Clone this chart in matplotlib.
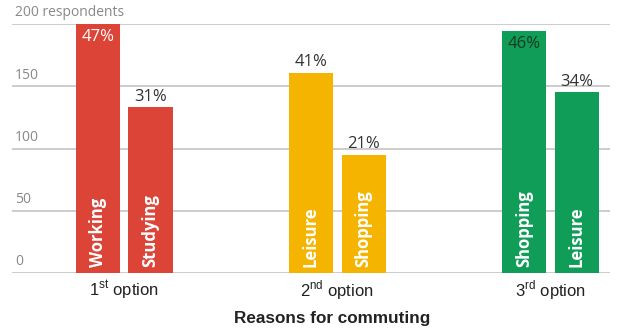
import matplotlib
matplotlib.use('Agg')
from matplotlib import pyplot as plt

# data
groups = ['1$^{\\mathrm{st}}$ option', '2$^{\\mathrm{nd}}$ option', '3$^{\\mathrm{rd}}$ option']
reasons = ['Working', 'Studying', 'Leisure', 'Shopping', 'Shopping', 'Leisure']
values = [200, 133, 161, 95, 194, 145]
percents = ['47%', '31%', '41%', '21%', '46%', '34%']
colors = ['#DB4437', '#DB4437', '#F4B400', '#F4B400', '#0F9D58', '#0F9D58']
yticks = [0, 50, 100, 150, 200]

plt.rcParams['mathtext.fontset'] = 'custom'
plt.rcParams['mathtext.rm'] = 'Liberation Sans'

fig = plt.figure(figsize=(6.21, 3.31), dpi=100)
ax = fig.add_axes([12/621, 58/331, 598/621, 249/331])

off = 0.124
w = 0.207
xs = []
for i in range(3):
    xs += [i - off, i + off]

ax.set_ylim(0, 200)
ax.set_xlim(-0.526, 2.28)
for t in yticks:
    ax.axhline(t, color='#c4c4c4', lw=1.2, zorder=0)
    lab = '200 respondents' if t == 200 else str(t)
    ax.text(0.005, t + 3, lab, transform=ax.get_yaxis_transform(),
            ha='left', va='bottom', fontsize=10, color='#888888', family='Open Sans')

ax.bar(xs, values, width=w, color=colors, zorder=2)

for x, v, p, r in zip(xs, values, percents, reasons):
    if v > 185:
        col = 'white' if p == '47%' else '#1a3a22'
        ax.text(x, v - 4, p, ha='center', va='top', fontsize=12,
                color=col, family='Open Sans', zorder=3)
    else:
        ax.text(x, v + 2, p, ha='center', va='bottom', fontsize=12,
                color='#333333', family='Open Sans', zorder=3)
    ax.text(x, 5, r, rotation=90, ha='center', va='bottom', fontsize=12,
            fontweight='bold', color='white', family='Open Sans', zorder=3)

ax.set_xticks(range(3))
ax.set_xticklabels(groups, fontsize=12, family='Liberation Sans', color='#222222')
ax.tick_params(axis='x', length=0, pad=4)
ax.set_yticks([])
for s in ax.spines.values():
    s.set_visible(False)

fig.text(332/621, 13/331, 'Reasons for commuting', ha='center', va='center',
         fontsize=12.3, fontweight='bold', family='Liberation Sans', color='#222222')

fig.savefig('out.png', dpi=100)
